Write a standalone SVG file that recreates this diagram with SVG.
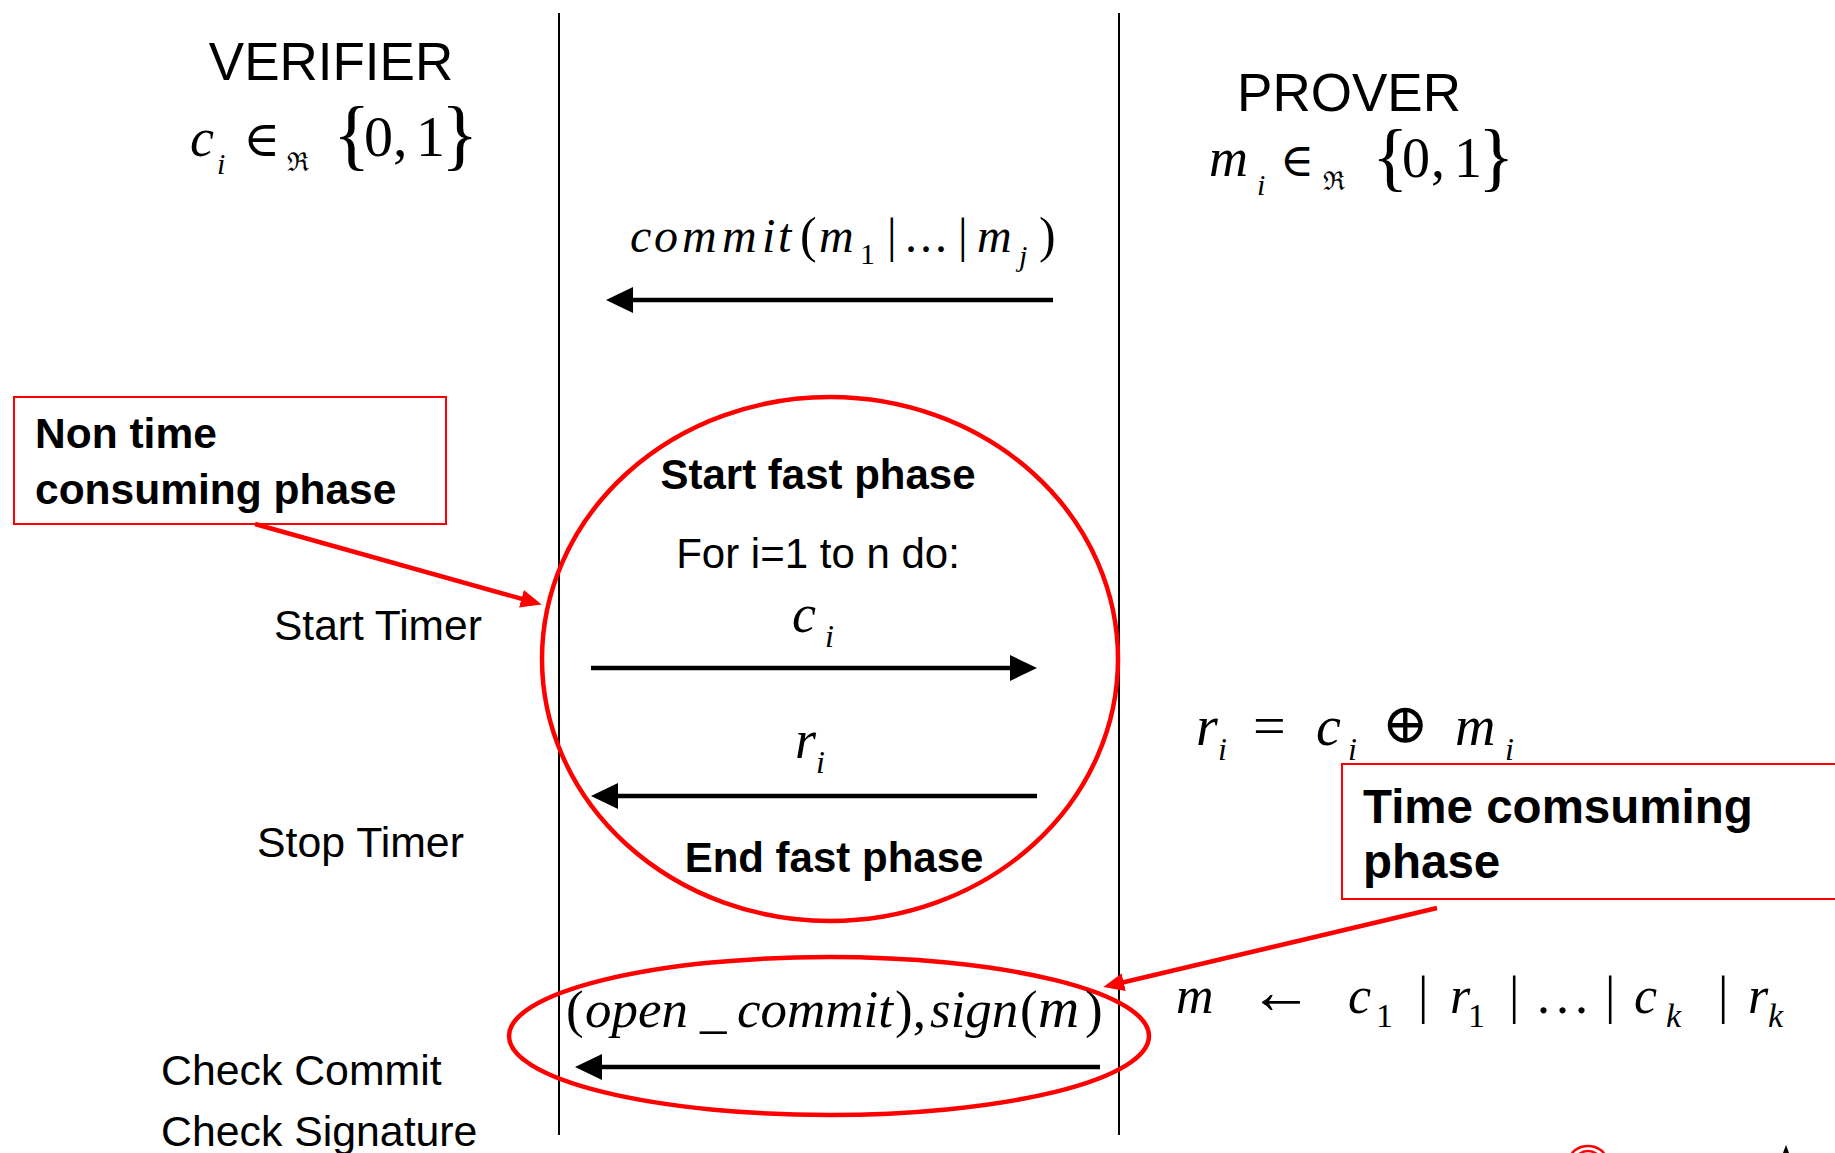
<svg xmlns="http://www.w3.org/2000/svg" width="1835" height="1153" viewBox="0 0 1835 1153">
<style>
.sans{font-family:"Liberation Sans",Arial,sans-serif;fill:#000}
.b{font-weight:bold}
.ser{font-family:"Liberation Serif","Times New Roman","DejaVu Serif",serif;fill:#000}
.it{font-style:italic}
.life{stroke:#000;stroke-width:2;fill:none}
.msg{stroke:#000;stroke-width:4.5;fill:none}
.red{stroke:#f00;fill:none}
</style>
<defs>
<marker id="ah" markerUnits="userSpaceOnUse" markerWidth="28" markerHeight="26" refX="16" refY="13" orient="auto">
<path d="M0,0 L27,13 L0,26 z" fill="#000"/>
</marker>
<marker id="rh" markerUnits="userSpaceOnUse" markerWidth="22" markerHeight="18" refX="12" refY="9" orient="auto">
<path d="M0,0 L21,9 L0,18 z" fill="#f00"/>
</marker>
</defs>
<rect width="1835" height="1153" fill="#fff"/>

<g id="lifelines">
<line class="life" x1="559" y1="13" x2="559" y2="1135"/>
<line class="life" x1="1119" y1="13" x2="1119" y2="1135"/>
</g>

<g id="verifier">
<text class="sans" x="331" y="80" font-size="53" text-anchor="middle">VERIFIER</text>
<text class="ser">
<tspan class="it" x="190" y="156" font-size="54">c</tspan>
<tspan class="it" x="217" y="174" font-size="30">i</tspan>
<tspan x="243" y="156" font-size="50">∈</tspan>
<tspan x="287" y="171" font-size="26">ℜ</tspan>
<tspan x="333" y="161" font-size="78">{</tspan>
<tspan x="364" y="156" font-size="58">0</tspan>
<tspan x="393" y="156" font-size="58">,</tspan>
<tspan x="416" y="156" font-size="58">1</tspan>
<tspan x="441" y="161" font-size="78">}</tspan>
</text>
</g>

<g id="prover">
<text class="sans" x="1349" y="111" font-size="53" text-anchor="middle">PROVER</text>
<text class="ser">
<tspan class="it" x="1209" y="176" font-size="54">m</tspan>
<tspan class="it" x="1257" y="195" font-size="30">i</tspan>
<tspan x="1280" y="176" font-size="46">∈</tspan>
<tspan x="1323" y="190" font-size="26">ℜ</tspan>
<tspan x="1372" y="182" font-size="76">{</tspan>
<tspan x="1402" y="177" font-size="56">0</tspan>
<tspan x="1431" y="177" font-size="56">,</tspan>
<tspan x="1454" y="177" font-size="56">1</tspan>
<tspan x="1478" y="182" font-size="76">}</tspan>
</text>
</g>

<g id="commit-label">
<text class="ser" font-size="48">
<tspan class="it" x="630 654 682 722 762 778" y="252">commit</tspan>
<tspan x="800" y="252" font-size="50">(</tspan>
<tspan class="it" x="819" y="252">m</tspan>
<tspan x="860" y="264" font-size="30">1</tspan>
<tspan x="887" y="252">|</tspan>
<tspan x="905" y="252" letter-spacing="3">...</tspan>
<tspan x="958" y="252">|</tspan>
<tspan class="it" x="977" y="252">m</tspan>
<tspan class="it" x="1019" y="266" font-size="30">j</tspan>
<tspan x="1039" y="252" font-size="50">)</tspan>
</text>
</g>

<g id="non-time-box">
<rect class="red" stroke-width="2" x="14" y="397" width="432" height="127"/>
<text class="sans b" x="35" y="448" font-size="42.5">Non time</text>
<text class="sans b" x="35" y="504" font-size="42.5">consuming phase</text>
</g>

<g id="time-box">
<rect class="red" stroke-width="2" x="1342" y="764" width="500" height="135"/>
<text class="sans b" x="1363" y="823" font-size="47.5">Time comsuming</text>
<text class="sans b" x="1363" y="878" font-size="47.5">phase</text>
</g>

<g id="verifier-actions">
<text class="sans" x="274" y="640" font-size="42.5">Start Timer</text>
<text class="sans" x="257" y="857" font-size="42.8">Stop Timer</text>
<text class="sans" x="161" y="1085" font-size="42.8">Check Commit</text>
<text class="sans" x="161" y="1146" font-size="42.8">Check Signature</text>
</g>

<g id="fast-phase">
<ellipse class="red" stroke-width="4.5" cx="830" cy="659" rx="288" ry="262"/>
<text class="sans b" x="818" y="489" font-size="42" text-anchor="middle">Start fast phase</text>
<text class="sans" x="818" y="568" font-size="42" text-anchor="middle">For i=1 to n do:</text>
<text class="ser it"><tspan x="792" y="632" font-size="54">c</tspan><tspan x="825" y="647" font-size="32">i</tspan></text>
<text class="ser it"><tspan x="795" y="758" font-size="54">r</tspan><tspan x="816" y="773" font-size="32">i</tspan></text>
<text class="sans b" x="834" y="872" font-size="42" text-anchor="middle">End fast phase</text>
</g>

<g id="xor-formula">
<text class="ser">
<tspan class="it" x="1196" y="745" font-size="56">r</tspan>
<tspan class="it" x="1218" y="760" font-size="32">i</tspan>
<tspan x="1253" y="745" font-size="58">=</tspan>
<tspan class="it" x="1316" y="745" font-size="56">c</tspan>
<tspan class="it" x="1348" y="760" font-size="32">i</tspan>
<tspan x="1382" y="743" font-size="56">⊕</tspan>
<tspan class="it" x="1455" y="745" font-size="56">m</tspan>
<tspan class="it" x="1505" y="760" font-size="32">i</tspan>
</text>
</g>

<g id="open-phase">
<ellipse class="red" stroke-width="4.5" cx="829" cy="1036" rx="320" ry="79"/>
<text class="ser" font-size="53">
<tspan x="566" y="1027">(</tspan>
<tspan class="it" x="585" y="1027">open</tspan>
<tspan x="700" y="1027">_</tspan>
<tspan class="it" x="737" y="1027">commit</tspan>
<tspan x="895" y="1027">),</tspan>
<tspan class="it" x="930" y="1027">sign</tspan>
<tspan x="1020" y="1027">(</tspan>
<tspan class="it" x="1038" y="1027" font-size="57">m</tspan>
<tspan x="1085" y="1027">)</tspan>
</text>
</g>

<g id="m-formula">
<text class="ser" font-size="52">
<tspan class="it" x="1176" y="1013">m</tspan>
<tspan x="1249" y="1013" font-size="64">←</tspan>
<tspan class="it" x="1348" y="1013">c</tspan>
<tspan x="1376" y="1027" font-size="34">1</tspan>
<tspan x="1418" y="1013">|</tspan>
<tspan class="it" x="1450" y="1013">r</tspan>
<tspan x="1468" y="1027" font-size="34">1</tspan>
<tspan x="1509" y="1013">|</tspan>
<tspan x="1537" y="1013" letter-spacing="6">...</tspan>
<tspan x="1605" y="1013">|</tspan>
<tspan class="it" x="1634" y="1013">c</tspan>
<tspan class="it" x="1666" y="1027" font-size="34">k</tspan>
<tspan x="1718" y="1013">|</tspan>
<tspan class="it" x="1748" y="1013">r</tspan>
<tspan class="it" x="1768" y="1027" font-size="34">k</tspan>
</text>
</g>

<g id="connectors">
<line class="msg" x1="1053" y1="300" x2="617" y2="300" marker-end="url(#ah)"/>
<line class="msg" x1="591" y1="668" x2="1026" y2="668" marker-end="url(#ah)"/>
<line class="msg" x1="1037" y1="796" x2="602" y2="796" marker-end="url(#ah)"/>
<line class="msg" x1="1100" y1="1067" x2="586" y2="1067" marker-end="url(#ah)"/>
<line class="red" stroke-width="4.5" x1="255" y1="524" x2="533" y2="602" marker-end="url(#rh)"/>
<line class="red" stroke-width="4.5" x1="1437" y1="908" x2="1112" y2="985" marker-end="url(#rh)"/>
</g>

<g id="logo-fragment">
<path d="M1570,1160 A18,14 0 0 1 1606,1160" class="red" stroke-width="2.5"/>
<path d="M1576,1160 A12,9 0 0 1 1600,1160" class="red" stroke-width="2.5"/>
<path d="M1783,1153 L1786,1145 L1789,1153 z" fill="#000"/>
</g>
</svg>
